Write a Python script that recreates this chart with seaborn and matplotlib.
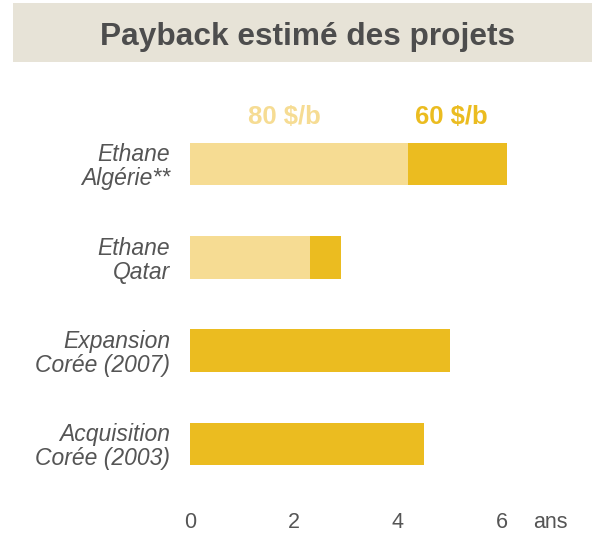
import pandas as pd
import seaborn as sns
import matplotlib.pyplot as plt
from matplotlib.patches import Rectangle

# Données (payback en années)
projets = ["Ethane\nAlgérie**", "Ethane\nQatar", "Expansion\nCorée (2007)", "Acquisition\nCorée (2003)"]
payback_60 = [6.1, 2.9, 5.0, 4.5]
payback_80 = [4.2, 2.3, None, None]
ticks_x = [0, 2, 4, 6]
unite = "ans"
serie_80 = "80 $/b"
serie_60 = "60 $/b"
titre = "Payback estimé des projets"

JAUNE_CLAIR = "#F6DC93"
JAUNE = "#EBBC20"
GRIS = "#555555"

sns.set_theme(style="white")
plt.rcParams["font.family"] = ["Liberation Sans", "DejaVu Sans"]

df = pd.DataFrame({"projet": projets, "p60": payback_60, "p80": payback_80})

fig = plt.figure(figsize=(5.92, 5.35), dpi=100)
ax = fig.add_axes([190 / 592, 35 / 535, 374.4 / 592, 406 / 535])

sns.barplot(data=df, y="projet", x="p60", color=JAUNE, width=0.46,
            saturation=1, linewidth=0, ax=ax, orient="h")
sns.barplot(data=df.dropna(), y="projet", x="p80", color=JAUNE_CLAIR, width=0.46,
            saturation=1, linewidth=0, ax=ax, orient="h")

ax.set_xlim(0, 7.2)
ax.set_ylim(3.6, -0.75)
ax.set_xticks(ticks_x)
ax.set_xticklabels([str(t) for t in ticks_x])
ax.set_xlabel("")
ax.set_ylabel("")
sns.despine(ax=ax, left=True, bottom=True)
ax.tick_params(axis="x", length=0, pad=9, labelsize=15.5, labelcolor=GRIS)
ax.tick_params(axis="y", length=0, pad=14.4, labelsize=16.5, labelcolor=GRIS)
for lab in ax.get_yticklabels():
    lab.set_fontstyle("italic")
    lab.set_linespacing(1.05)

ax.annotate(unite, xy=(6.93, 0), xycoords=ax.get_xaxis_transform(),
            xytext=(0, -9), textcoords="offset points",
            ha="center", va="top", fontsize=15.5, color=GRIS)

# légende des séries
ax.text(1.81, -0.43, serie_80, ha="center", va="baseline", fontsize=18.5,
        fontweight="bold", color=JAUNE_CLAIR)
ax.text(5.02, -0.43, serie_60, ha="center", va="baseline", fontsize=18.5,
        fontweight="bold", color=JAUNE)

# bandeau du titre
fig.patches.append(Rectangle((13 / 592, (535 - 62) / 535), 579 / 592, 59 / 535,
                             transform=fig.transFigure, facecolor="#E7E3D7",
                             edgecolor="none", zorder=0))
fig.text(308 / 592, (535 - 45) / 535, titre, ha="center", va="baseline",
         fontsize=22.8, fontweight="bold", color="#4D4D4D")

fig.savefig("out.png", dpi=100)
